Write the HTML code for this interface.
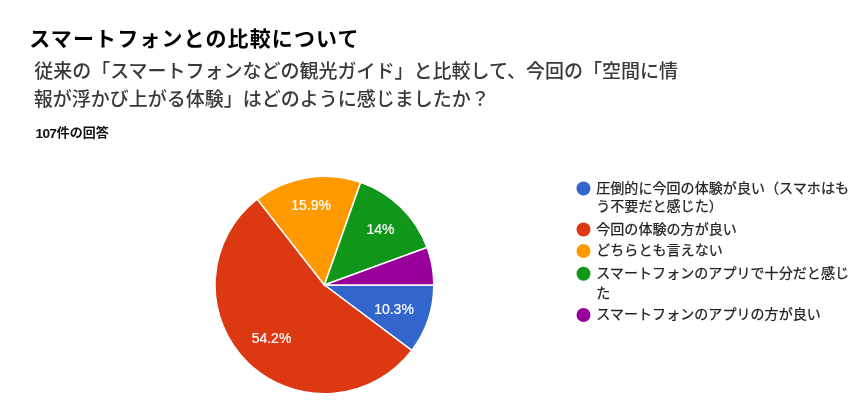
<!DOCTYPE html>
<html lang="ja">
<head>
<meta charset="utf-8">
<title>スマートフォンとの比較について</title>
<style>
html,body{margin:0;padding:0;background:#fff;}
body{width:867px;height:418px;position:relative;overflow:hidden;font-family:"Liberation Sans","Noto Sans CJK JP",sans-serif;}
.t{position:absolute;white-space:nowrap;margin:0;}
#title{left:29.3px;top:23.3px;font-size:21px;letter-spacing:1.12px;line-height:32px;font-weight:700;color:#000;}
#sub1{left:34.2px;top:57.7px;font-size:19px;letter-spacing:0;line-height:28px;color:#3a3a3a;font-weight:500;}
#sub2{left:33.8px;top:86.2px;font-size:19px;letter-spacing:0;line-height:28px;color:#3a3a3a;font-weight:500;}
#cnt{left:34.5px;top:124.3px;font-size:13px;line-height:18px;font-weight:700;color:#111;}
#cnt .n{font-size:13.7px;letter-spacing:-0.7px;position:relative;top:1px;margin-left:1px;margin-right:0.6px;}
svg{position:absolute;left:0;top:0;}
svg text{font-family:"Liberation Sans","Noto Sans CJK JP",sans-serif;}
</style>
</head>
<body>
<h1 class="t" id="title">スマートフォンとの比較について</h1>
<p class="t" id="sub1">従来の「スマートフォンなどの観光ガイド」と比較して、今回の「空間に情</p>
<p class="t" id="sub2">報が浮かび上がる体験」はどのように感じましたか？</p>
<p class="t" id="cnt"><span class="n">107</span>件の回答</p>
<svg width="867" height="418" viewBox="0 0 867 418">
  <g stroke="#fff" stroke-width="1.5">
    <path d="M324.4,285L433.80,285.00A109.4,108.75,0,0,1,411.76,350.46Z" fill="#3366cc"/>
    <path d="M324.4,285L411.76,350.46A109.4,108.75,0,1,1,257.27,199.13Z" fill="#dc3912"/>
    <path d="M324.4,285L257.27,199.13A109.4,108.75,0,0,1,360.64,182.39Z" fill="#ff9900"/>
    <path d="M324.4,285L360.64,182.39A109.4,108.75,0,0,1,427.08,247.47Z" fill="#109618"/>
    <path d="M324.4,285L427.08,247.47A109.4,108.75,0,0,1,433.80,285.00Z" fill="#990099"/>
  </g>
  <g font-size="14" fill="#fff" text-anchor="middle" stroke="#fff" stroke-width="0.2">
    <text x="394" y="313.5">10.3%</text>
    <text x="271.5" y="343.4">54.2%</text>
    <text x="311.1" y="209.6">15.9%</text>
    <text x="380.5" y="234">14%</text>
  </g>
  <g>
    <circle cx="583.5" cy="188.5" r="7" fill="#3366cc"/>
    <circle cx="583.5" cy="229.5" r="7" fill="#dc3912"/>
    <circle cx="583.5" cy="251" r="7" fill="#ff9900"/>
    <circle cx="583.5" cy="273.7" r="7" fill="#109618"/>
    <circle cx="583.5" cy="315" r="7" fill="#990099"/>
  </g>
  <g font-size="14" fill="#222" stroke="#222" stroke-width="0.25" letter-spacing="0.07" transform="translate(0.2,-0.8)">
    <text x="596" y="193.5">圧倒的に今回の体験が良い（スマホはも</text>
    <text x="596" y="212">う不要だと感じた）</text>
    <text x="596" y="234.5">今回の体験の方が良い</text>
    <text x="596" y="256.2">どちらとも言えない</text>
    <text x="596" y="279">スマートフォンのアプリで十分だと感じ</text>
    <text x="596" y="298.5">た</text>
    <text x="596" y="320">スマートフォンのアプリの方が良い</text>
  </g>
</svg>
</body>
</html>
